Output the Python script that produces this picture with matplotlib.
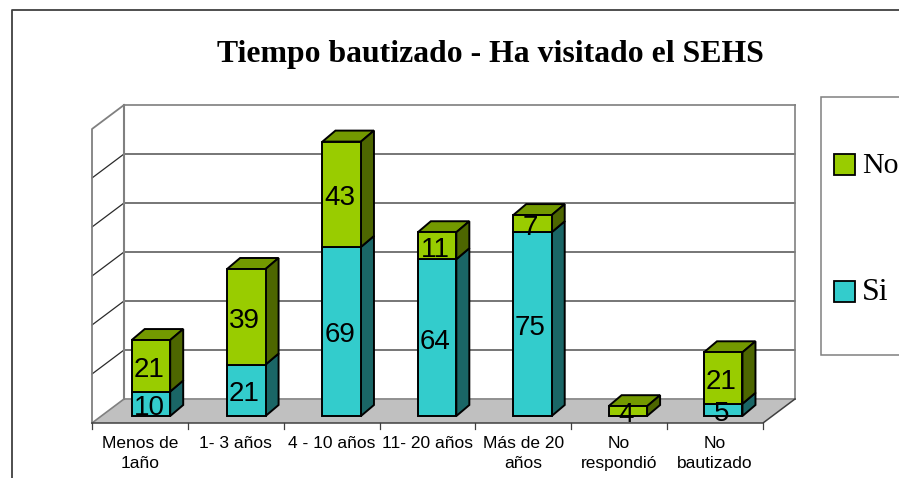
import matplotlib
matplotlib.use('Agg')
import matplotlib.pyplot as plt
from matplotlib.patches import Polygon, Rectangle

categorias = ['Menos de\n1año', '1- 3 años', '4 - 10 años', '11- 20 años',
              'Más de 20\naños', 'No\nrespondió', 'No\nbautizado']
si = [10, 21, 69, 64, 75, 0, 5]
no = [21, 39, 43, 11, 7, 4, 21]
y_ticks = [0, 20, 40, 60, 80, 100, 120]
titulo = 'Tiempo bautizado - Ha visitado el SEHS'

W, H = 899, 478
VERDE = ('#99CC00', '#739900', '#4D6600')  # frente, arriba, lado
CIAN = ('#33CCCC', '#33CCCC', '#1A6666')

fig = plt.figure(figsize=(W / 100, H / 100), dpi=100)
fig.patch.set_facecolor('white')

# overlay en pixeles para marco, titulo y leyenda
ov = fig.add_axes([0, 0, 1, 1])
ov.set_xlim(0, W)
ov.set_ylim(H, 0)
ov.axis('off')
ov.plot([12, 12, W], [H, 10, 10], color='#404040', lw=1.3)
ov.text(490, 54, titulo, family='Liberation Serif', weight='bold', fontsize=22.9,
        ha='center', va='center')
ov.add_patch(Rectangle((821, 97), 100, 258, fc='white', ec='#808080', lw=1.1, clip_on=True))
ov.add_patch(Rectangle((833.5, 154), 21, 21, fc=VERDE[0], ec='black', lw=1.3))
ov.add_patch(Rectangle((833.5, 281), 21, 21, fc=CIAN[0], ec='black', lw=1.3))
ov.text(862, 166, 'No', family='Liberation Serif', fontsize=21.5, ha='left', va='center')
ov.text(862, 293, 'Si', family='Liberation Serif', fontsize=23, ha='left', va='center')

# eje principal: plano frontal del grafico 3D
ax = fig.add_axes([92 / W, (H - 423) / H, 671 / W, 294 / H])
ax.set_xlim(0, 7)
ax.set_ylim(0, 120)
ax.axis('off')
ax.patch.set_alpha(0)

px_x = 671 / 7           # pixeles por categoria
px_y = 294 / 120         # pixeles por unidad
DX = 32 / px_x           # profundidad de las paredes
DY = 24 / px_y
ymax = y_ticks[-1]
n = len(categorias)


def poly(pts, fc, ec='black', lw=1.4, z=3):
    ax.add_patch(Polygon(pts, closed=True, fc=fc, ec=ec, lw=lw, zorder=z, clip_on=False,
                         joinstyle='miter'))


# piso y paredes
poly([(0, 0), (n, 0), (n + DX, DY), (DX, DY)], '#C0C0C0', ec='none', lw=0, z=1)
for t in y_ticks[1:-1]:
    ax.plot([0, DX, n + DX], [t, t + DY, t + DY], color='#2a2a2a', lw=0.9, zorder=1,
            clip_on=False)
ax.plot([DX, n + DX], [ymax + DY, ymax + DY], color='#909090', lw=1.4, zorder=1, clip_on=False)
ax.plot([DX, n + DX], [DY, DY], color='#909090', lw=1.4, zorder=1.5, clip_on=False)
ax.plot([DX, DX], [DY, ymax + DY], color='#808080', lw=1.5, zorder=1.5, clip_on=False)
ax.plot([n + DX, n + DX], [DY, ymax + DY], color='#808080', lw=1.2, zorder=1.5, clip_on=False)
ax.plot([0, 0, DX], [0, ymax, ymax + DY], color='#808080', lw=1.3, zorder=1.5, clip_on=False)
ax.plot([0, DX], [0, DY], color='#808080', lw=1.2, zorder=1.5, clip_on=False)
ax.plot([0, n, n + DX], [0, 0, DY], color='#404040', lw=1.1, zorder=2, clip_on=False)

# marcas y etiquetas del eje x
for i in range(n + 1):
    ax.plot([i, i], [0, -6 / px_y], color='#404040', lw=0.9, clip_on=False)
for i, c in enumerate(categorias):
    ax.text(i + 0.5, -13.5 / px_y, c, family='Liberation Sans', fontsize=12.5, ha='center',
            va='top', linespacing=1.4, clip_on=False)

# barras apiladas
ancho = 38.5 / px_x
bx = 13 / px_x
by = 11 / px_y
base0 = 7 / px_y


def caja(x0, y0, y1, col):
    x1 = x0 + ancho
    poly([(x0, y1), (x0 + bx, y1 + by), (x1 + bx, y1 + by), (x1, y1)], col[1])
    poly([(x1, y0), (x1 + bx, y0 + by), (x1 + bx, y1 + by), (x1, y1)], col[2])
    poly([(x0, y0), (x1, y0), (x1, y1), (x0, y1)], col[0])


for i in range(n):
    x0 = 0.615 - ancho / 2 + i * 0.995
    xc = x0 + ancho / 2 - 2 / px_x
    y0 = base0
    for val, col in ((si[i], CIAN), (no[i], VERDE)):
        if val == 0:
            continue
        caja(x0, y0, y0 + val, col)
        ax.text(xc, y0 + val / 2 - 1 / px_y, str(val), family='Liberation Sans', fontsize=20,
                ha='center', va='center_baseline', zorder=5, clip_on=False)
        y0 += val

fig.savefig('out.png', dpi=100)
